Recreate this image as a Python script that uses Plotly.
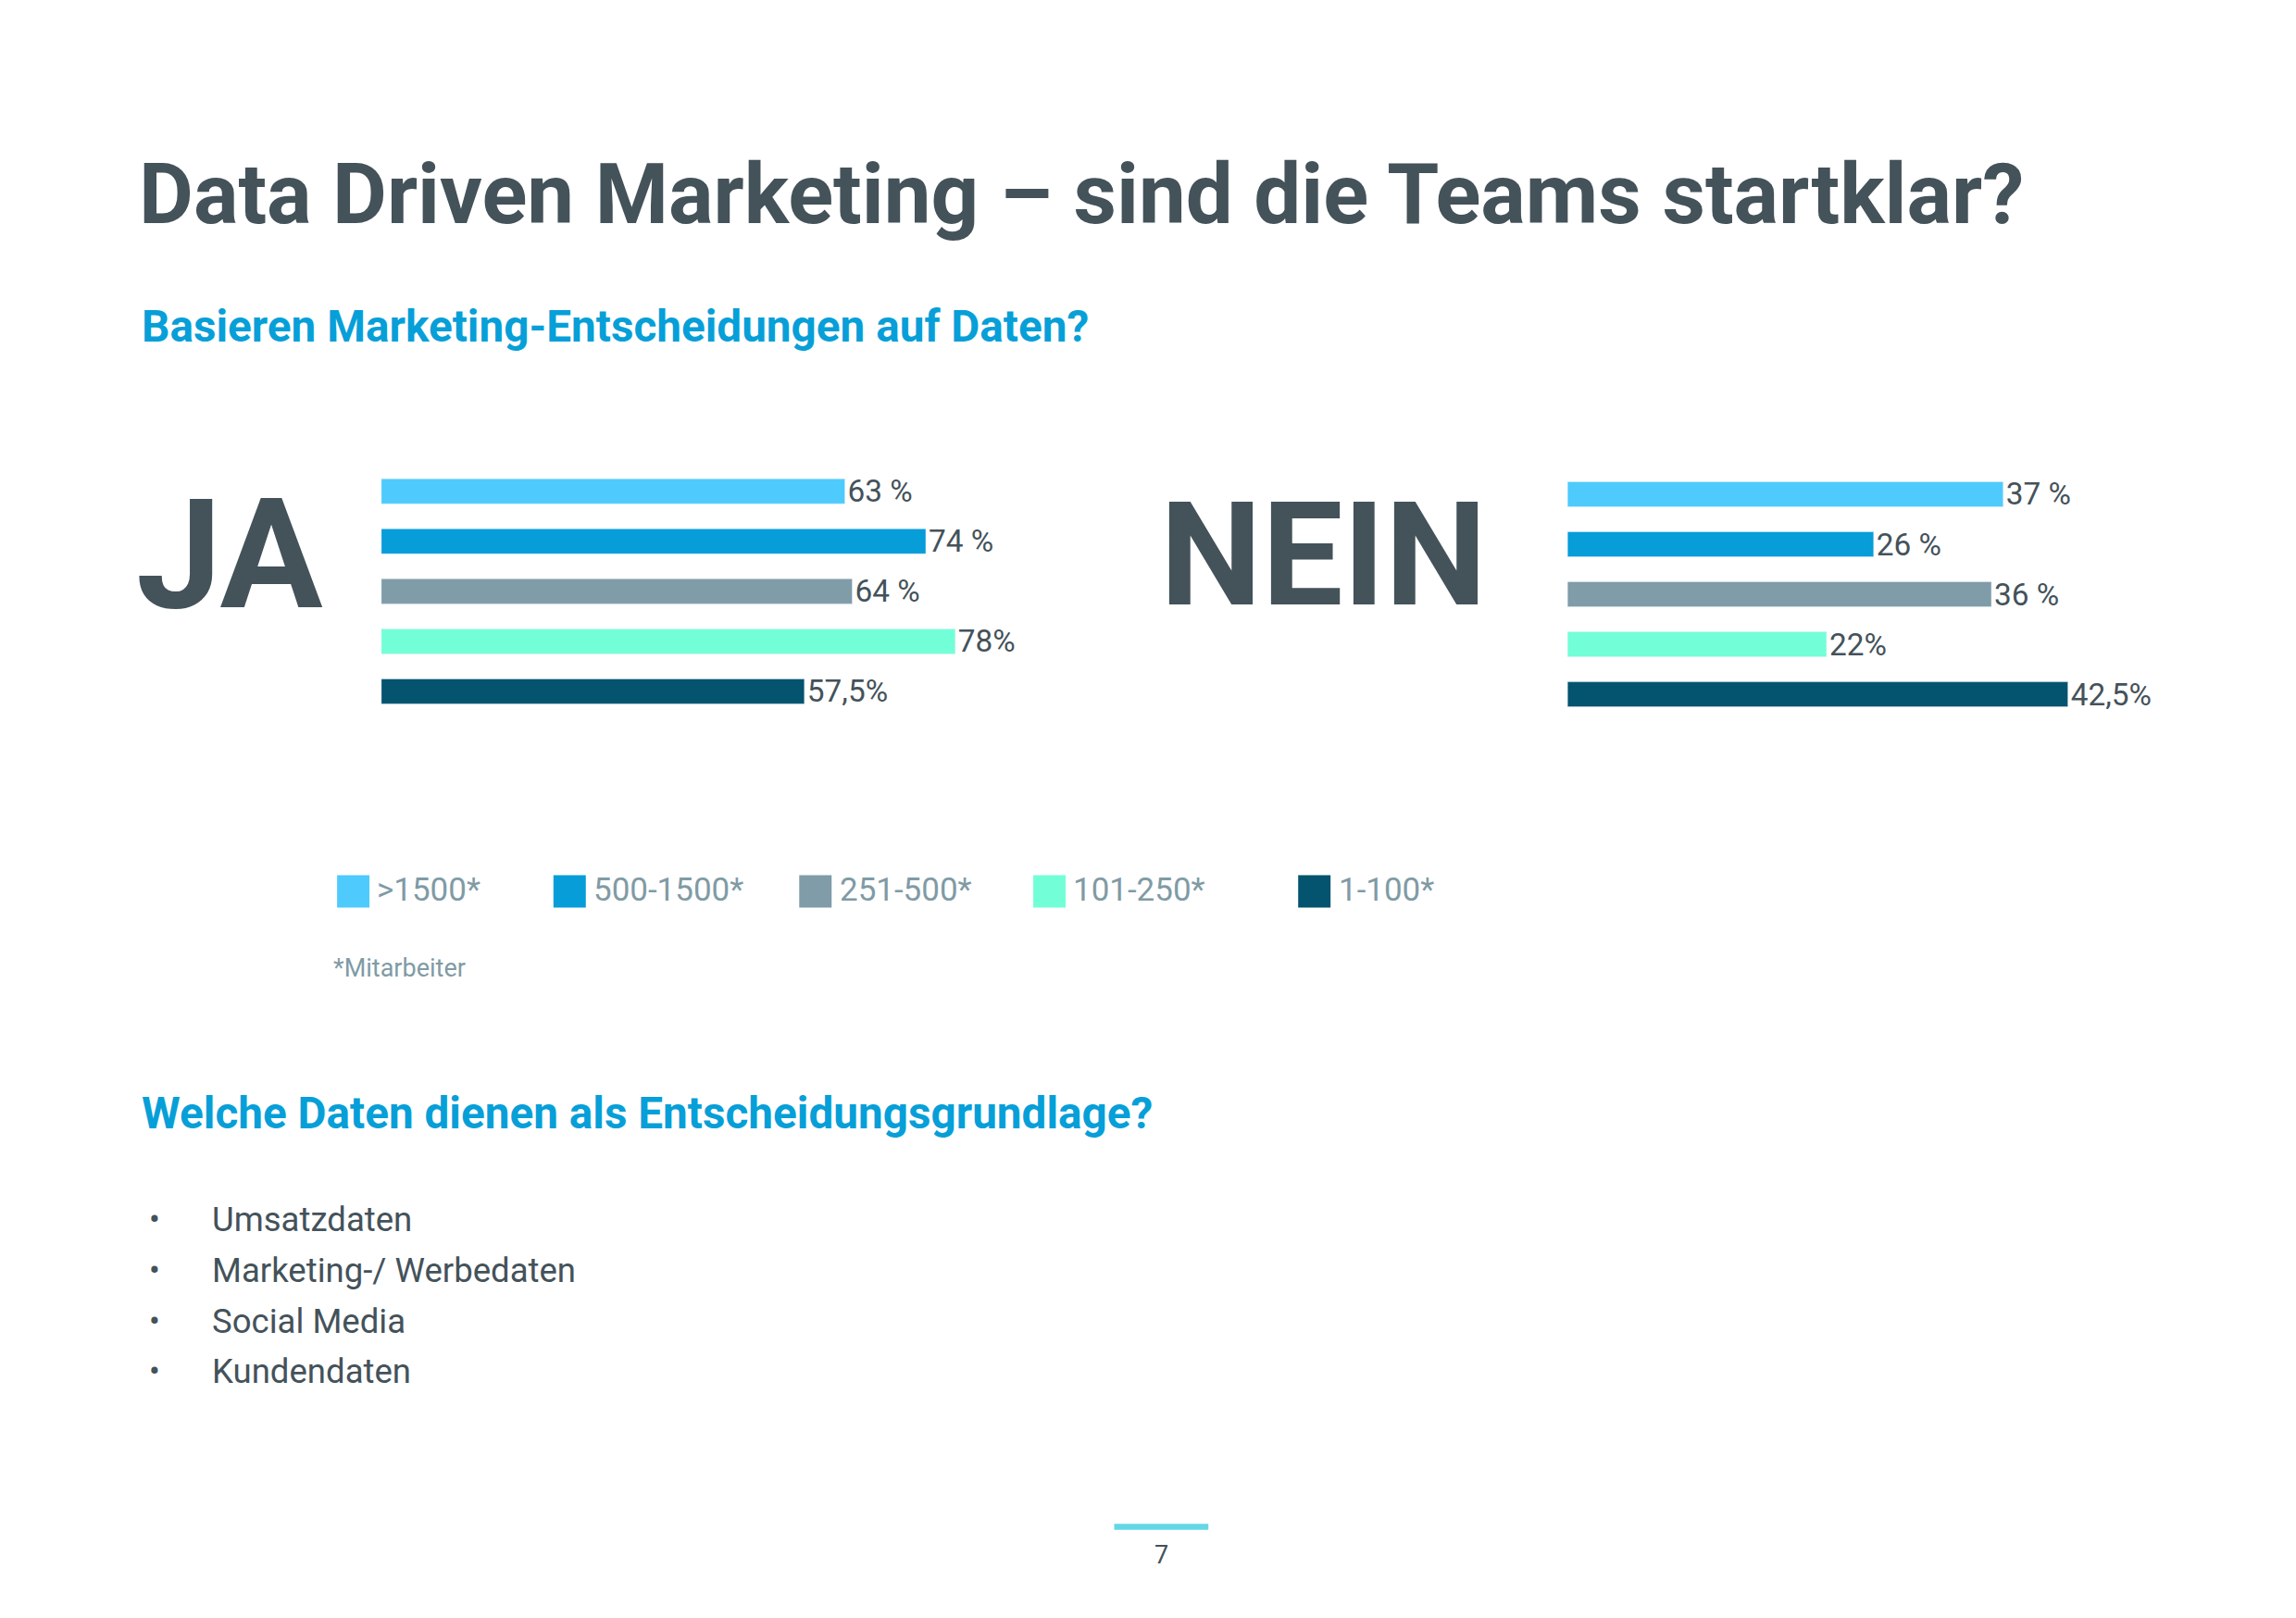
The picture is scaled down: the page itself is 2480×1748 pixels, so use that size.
import plotly.graph_objects as go

# data
groups = [">1500*", "500-1500*", "251-500*", "101-250*", "1-100*"]
ja_values = [63, 74, 64, 78, 57.5]
ja_labels = ["63 %", "74 %", "64 %", "78%", "57,5%"]
nein_values = [37, 26, 36, 22, 42.5]
nein_labels = ["37 %", "26 %", "36 %", "22%", "42,5%"]
colors = ["#4ecbfc", "#069dd9", "#7f9ca8", "#72ffd8", "#04536f"]
sources = ["Umsatzdaten", "Marketing-/ Werbedaten", "Social Media", "Kundendaten"]

W, H = 2480, 1748
S = W / 1560  # reference sketch scale


def X(p):
    return p / 1560


def Y(p):
    return 1 - p / 1100


FONT = "Roboto, sans-serif"
DARK = "#44525a"
BLUE = "#079fd8"
GREY = "#7f9ba5"

fig = go.Figure()
pos = list(range(len(groups)))
fig.add_trace(go.Bar(x=ja_values, y=pos, orientation="h", marker_color=colors, width=0.5,
                     text=ja_labels, textposition="outside", cliponaxis=False, constraintext="none",
                     textfont=dict(size=21 * S, color=DARK, family=FONT),
                     xaxis="x", yaxis="y", showlegend=False))
fig.add_trace(go.Bar(x=nein_values, y=pos, orientation="h", marker_color=colors, width=0.5,
                     text=nein_labels, textposition="outside", cliponaxis=False, constraintext="none",
                     textfont=dict(size=21 * S, color=DARK, family=FONT),
                     xaxis="x2", yaxis="y2", showlegend=False))

ax = dict(visible=False, fixedrange=True)
fig.update_layout(
    width=W, height=H, margin=dict(l=0, r=0, t=0, b=0),
    paper_bgcolor="white", plot_bgcolor="white",
    xaxis=dict(ax, domain=[X(254), X(754)], range=[0, 100]),
    yaxis=dict(ax, domain=[Y(482), Y(312)], range=[4.5, -0.5]),
    xaxis2=dict(ax, domain=[X(1060), X(1460)], range=[0, 50]),
    yaxis2=dict(ax, domain=[Y(484), Y(314)], range=[4.5, -0.5], anchor="x2"),
    font=dict(family=FONT, color=DARK),
)

ann = []


def txt(x, y, t, size, color=DARK, bold=False, anchor="left"):
    if bold:
        t = "<b>" + t + "</b>"
    ann.append(dict(x=X(x), y=Y(y), xref="paper", yref="paper", text=t, showarrow=False,
                    xanchor=anchor, yanchor="middle", font=dict(size=size * S, color=color, family=FONT)))


txt(88, 127, "Data Driven Marketing – sind die Teams startklar?", 57, bold=True)
txt(90, 217, "Basieren Marketing-Entscheidungen auf Daten?", 30, BLUE, bold=True)
txt(86, 372, "JA", 104, bold=True)
txt(782, 372, "NEIN", 98, bold=True)

legend_x = [224, 371, 538, 697, 877]
shapes = []
for lx, g, c in zip(legend_x, groups, colors):
    shapes.append(dict(type="rect", xref="paper", yref="paper", x0=X(lx), x1=X(lx + 22),
                       y0=Y(612), y1=Y(590), fillcolor=c, line_width=0))
    txt(lx + 26, 600, g, 22, GREY)
txt(220, 653, "*Mitarbeiter", 17, GREY)

txt(90, 752, "Welche Daten dienen als Entscheidungsgrundlage?", 30, BLUE, bold=True)
for i, s in enumerate(sources):
    yy = 824 + i * 34.5
    txt(100, yy, "•", 22, DARK, anchor="center")
    txt(138, yy, s, 23)

shapes.append(dict(type="line", xref="paper", yref="paper", x0=X(752), x1=X(816),
                   y0=Y(1033), y1=Y(1033), line=dict(color="#63d7e6", width=4 * S)))
txt(784, 1052, "7", 17, anchor="center")

fig.update_layout(annotations=ann, shapes=shapes)
fig.write_html("out.html")
